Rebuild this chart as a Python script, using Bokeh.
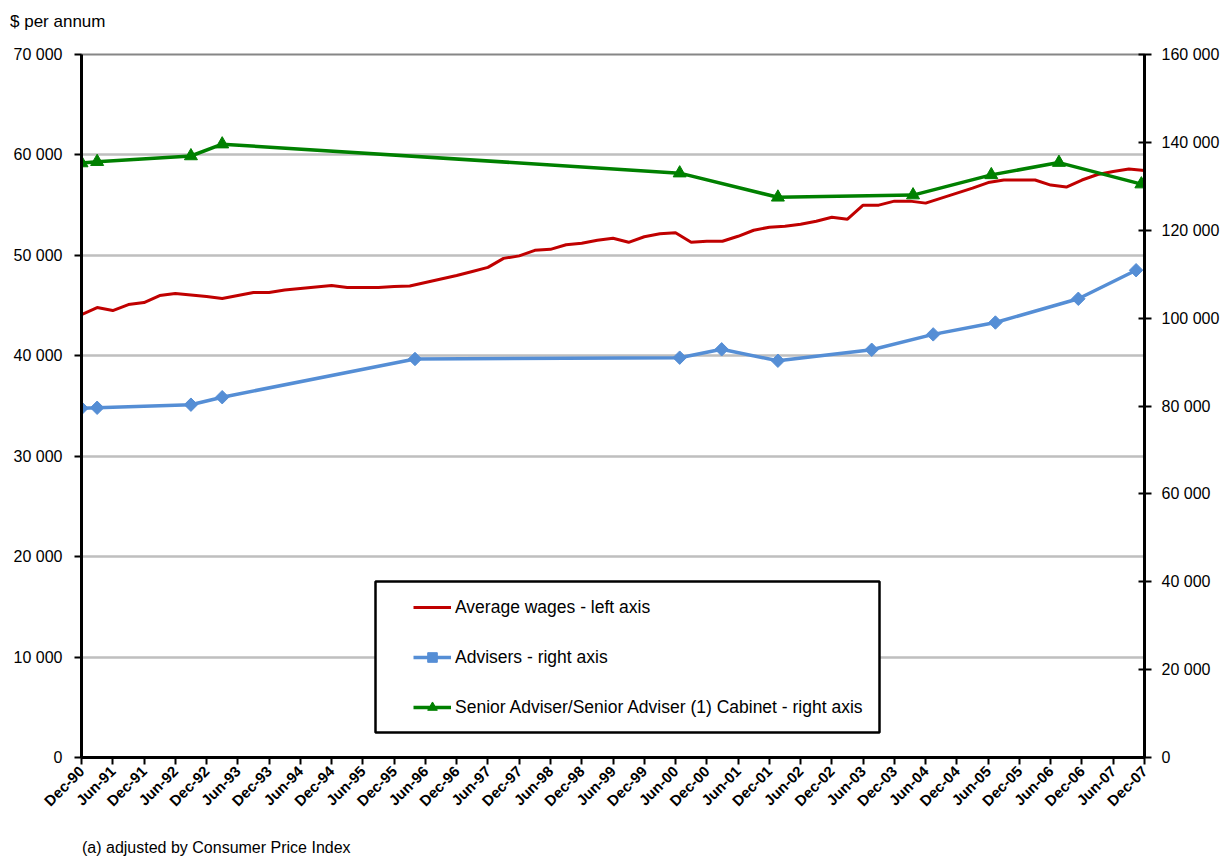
import math
import pandas as pd
from bokeh.plotting import figure
from bokeh.layouts import column
from bokeh.models import (Range1d, LinearAxis, FixedTicker, Legend, LegendItem,
                          BoxAnnotation, Div)
from bokeh.embed import file_html
from bokeh.resources import INLINE

# ---------------- data ----------------
START = pd.Timestamp("1990-12-01")

tick_dates = pd.date_range("1990-12-01", "2007-12-01", freq="6MS")
tick_labels = [d.strftime("%b-%y") for d in tick_dates]

wage_dates = pd.date_range("1990-12-01", "2007-12-01", freq="3MS")
wages = [44100, 44800, 44500, 45100, 45300, 46000, 46200, 46050, 45900, 45700,
         46000, 46300, 46300, 46550, 46700, 46850, 47000, 46800, 46800, 46800,
         46900, 46950, 47300, 47650, 48000, 48400, 48800, 49700, 49950, 50500,
         50600, 51050, 51200, 51500, 51700, 51300, 51850, 52150, 52250, 51300,
         51400, 51400, 51900, 52500, 52800, 52900, 53100, 53400, 53800, 53600,
         55000, 55000, 55400, 55400, 55200, 55700, 56200, 56700, 57250, 57500,
         57500, 57500, 57000, 56800, 57500, 58050, 58350, 58600, 58450]

adviser_dates = ["1990-12-01", "1991-03-01", "1992-09-01", "1993-03-01", "1996-04-01",
                 "2000-06-25", "2001-02-25", "2002-01-21", "2003-07-21", "2004-07-15",
                 "2005-07-13", "2006-11-10", "2007-10-13"]
adviser_pay = [79500, 79600, 80300, 82000, 90700, 91000, 92900, 90300, 92800, 96300,
               99000, 104400, 110900]

senior_dates = ["1990-12-01", "1991-03-01", "1992-09-01", "1993-03-01", "2000-06-25",
                "2002-01-21", "2004-03-19", "2005-06-19", "2006-07-19", "2007-11-13"]
senior_pay = [135300, 135600, 136900, 139600, 133000, 127500, 128000, 132600, 135400,
              130500]

left_ticks = list(range(0, 70001, 10000))
right_ticks = list(range(0, 160001, 20000))

series_names = ["Average wages - left axis", "Advisers - right axis",
                "Senior Adviser/Senior Adviser (1) Cabinet - right axis"]
title_text = "$ per annum"
note_text = "(a) adjusted by Consumer Price Index"


def months(d):
    d = pd.Timestamp(d)
    return (d.year - START.year) * 12 + (d.month - START.month) + (d.day - 1) / d.days_in_month


def fmt(v):
    return f"{v:,}".replace(",", " ")


FONT = "Liberation Sans"
RED, BLUE, GREEN = "#C00000", "#558ED5", "#008000"

tick_pos = [int(round(months(d))) for d in tick_dates]
wage_x = [months(d) for d in wage_dates]
adv_x = [months(d) for d in adviser_dates]
sen_x = [months(d) for d in senior_dates]

# ---------------- figure ----------------
p = figure(width=1222, height=806, x_range=Range1d(tick_pos[0], tick_pos[-1]),
           y_range=Range1d(left_ticks[0], left_ticks[-1]),
           output_backend="svg", toolbar_location=None, title=None,
           min_border_left=81, min_border_right=78, min_border_top=22,
           min_border_bottom=81, background_fill_color="white",
           border_fill_color="white")
p.extra_y_ranges = {"right": Range1d(right_ticks[0], right_ticks[-1])}

p.outline_line_color = "#868686"
p.outline_line_width = 2

p.xgrid.visible = False
p.ygrid.ticker = FixedTicker(ticks=left_ticks)
p.ygrid.grid_line_color = "#BFBFBF"
p.ygrid.grid_line_width = 2.5

# x axis
xa = p.xaxis[0]
xa.ticker = FixedTicker(ticks=tick_pos)
xa.major_label_overrides = {t: lab for t, lab in zip(tick_pos, tick_labels)}
xa.major_label_orientation = math.pi / 4
xa.major_label_text_font = FONT
xa.major_label_text_font_style = "bold"
xa.major_label_text_font_size = "15px"
xa.major_label_text_color = "black"
xa.major_label_standoff = 4
xa.axis_line_color = "black"
xa.axis_line_width = 3
xa.major_tick_line_color = "black"
xa.major_tick_line_width = 2
xa.major_tick_out = 7
xa.major_tick_in = 0
xa.minor_tick_line_color = None

# left axis
ya = p.yaxis[0]
ya.ticker = FixedTicker(ticks=left_ticks)
ya.major_label_overrides = {t: fmt(t) for t in left_ticks}
ya.major_label_text_font = FONT
ya.major_label_text_font_size = "16px"
ya.major_label_text_color = "black"
ya.major_label_standoff = 12
ya.axis_line_color = "black"
ya.axis_line_width = 3
ya.major_tick_line_color = "black"
ya.major_tick_line_width = 2
ya.major_tick_out = 7
ya.major_tick_in = 0
ya.minor_tick_line_color = None

# right axis
ra = LinearAxis(y_range_name="right", ticker=FixedTicker(ticks=right_ticks),
                major_label_overrides={t: fmt(t) for t in right_ticks},
                major_label_text_font=FONT, major_label_text_font_size="16px",
                major_label_text_color="black", major_label_standoff=10,
                axis_line_color="black", axis_line_width=3,
                major_tick_line_color="black", major_tick_line_width=2,
                major_tick_out=7, major_tick_in=6, minor_tick_line_color=None)
p.add_layout(ra, "right")

# ---------------- series ----------------
r_w = p.line(wage_x, wages, line_color=RED, line_width=3)
r_al = p.line(adv_x, adviser_pay, y_range_name="right", line_color=BLUE, line_width=3.5)
r_am = p.scatter(adv_x, adviser_pay, y_range_name="right", marker="square",
                 angle=math.pi / 4, size=9.5, fill_color=BLUE, line_color=BLUE)
r_sl = p.line(sen_x, senior_pay, y_range_name="right", line_color=GREEN, line_width=3.5)
r_sm = p.scatter(sen_x, senior_pay, y_range_name="right", marker="triangle", size=13,
                 fill_color=GREEN, line_color=GREEN)

# legend frame
box = BoxAnnotation(left=294, right=798, bottom=25, top=176,
                    left_units="screen", right_units="screen",
                    bottom_units="screen", top_units="screen",
                    fill_color="white", fill_alpha=1.0,
                    line_color="black", line_alpha=1.0, line_width=2.5)
p.add_layout(box)

legend = Legend(items=[LegendItem(label=series_names[0], renderers=[r_w]),
                       LegendItem(label=series_names[1], renderers=[r_al, r_am]),
                       LegendItem(label=series_names[2], renderers=[r_sl, r_sm])],
                location=(322, 28), border_line_alpha=0, background_fill_alpha=0,
                padding=10, spacing=26, glyph_width=38, glyph_height=24,
                label_height=24, label_standoff=4, margin=0,
                label_text_font=FONT, label_text_font_size="17.5px",
                label_text_color="black")
p.add_layout(legend)

top_div = Div(text=title_text, width=300, height=32, margin=(0, 0, 0, 10),
              styles={"font-family": FONT, "font-size": "17px", "line-height": "20px",
                      "padding-top": "12px", "color": "black"})
note_div = Div(text=note_text, width=500, height=20, margin=(0, 0, 0, 82),
               styles={"font-family": FONT, "font-size": "16px", "line-height": "20px",
                       "color": "black"})

layout = column(top_div, p, note_div, spacing=0)

open("out.html", "w").write(file_html(layout, INLINE))
